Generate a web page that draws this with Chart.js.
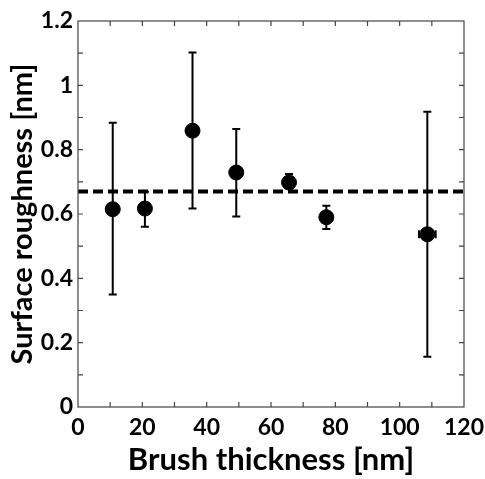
<!DOCTYPE html>
<html>
<head>
<meta charset="utf-8">
<script src="https://cdn.jsdelivr.net/npm/chart.js@4.4.1/dist/chart.umd.min.js"></script>
<style>
  html, body { margin: 0; padding: 0; background: #fff; }
  #wrap { width: 485px; height: 479px; position: relative; }
</style>
</head>
<body>
<div id="wrap"><canvas id="roughChart"></canvas></div>
<script>
// dados
const thickness = [10.8, 20.8, 35.6, 49.2, 65.6, 77.2, 108.6];
const roughness = [0.615, 0.617, 0.859, 0.729, 0.698, 0.590, 0.537];
const errUpper  = [0.884, 0.669, 1.102, 0.864, 0.724, 0.626, 0.918];
const errLower  = [0.350, 0.560, 0.617, 0.592, 0.680, 0.553, 0.156];
const xErr      = [0, 0, 0, 0, 0, 0, 2.6];
const meanLevel = 0.67;
const xTicks = [0, 20, 40, 60, 80, 100, 120];
const yTicks = [0, 0.2, 0.4, 0.6, 0.8, 1, 1.2];

const fontFamily = 'Lato, "Open Sans", sans-serif';

// barras de erro desenhadas por baixo dos pontos
const errorBars = {
    id: 'errorBars',
    beforeDatasetsDraw(chart) {
        const ctx = chart.ctx;
        const xs = chart.scales.x, ys = chart.scales.y;
        ctx.save();
        ctx.strokeStyle = '#000';
        ctx.lineWidth = 2;
        const cap = 4;
        thickness.forEach((t, i) => {
            const px = xs.getPixelForValue(t);
            const top = ys.getPixelForValue(errUpper[i]);
            const bot = ys.getPixelForValue(errLower[i]);
            ctx.beginPath();
            ctx.moveTo(px, top); ctx.lineTo(px, bot);
            ctx.moveTo(px - cap, top); ctx.lineTo(px + cap, top);
            ctx.moveTo(px - cap, bot); ctx.lineTo(px + cap, bot);
            if (xErr[i] > 0) {
                const py = ys.getPixelForValue(roughness[i]);
                const l = xs.getPixelForValue(t - xErr[i]);
                const r = xs.getPixelForValue(t + xErr[i]);
                ctx.moveTo(l, py); ctx.lineTo(r, py);
                ctx.moveTo(l, py - cap); ctx.lineTo(l, py + cap);
                ctx.moveTo(r, py - cap); ctx.lineTo(r, py + cap);
            }
            ctx.stroke();
        });
        ctx.restore();
    }
};

// moldura e marcas para dentro (maiores e menores)
const frameTicks = {
    id: 'frameTicks',
    afterDraw(chart) {
        const ctx = chart.ctx;
        const a = chart.chartArea;
        const xs = chart.scales.x, ys = chart.scales.y;
        const len = 5;
        ctx.save();
        ctx.strokeStyle = '#444';
        ctx.lineWidth = 1.2;
        ctx.strokeRect(a.left, a.top, a.right - a.left, a.bottom - a.top);
        ctx.beginPath();
        for (let v = 10; v < 120; v += 10) {
            const px = xs.getPixelForValue(v);
            ctx.moveTo(px, a.bottom); ctx.lineTo(px, a.bottom - len);
            ctx.moveTo(px, a.top); ctx.lineTo(px, a.top + len);
        }
        for (let k = 1; k < 12; k++) {
            const py = ys.getPixelForValue(k / 10);
            ctx.moveTo(a.left, py); ctx.lineTo(a.left + len, py);
            ctx.moveTo(a.right, py); ctx.lineTo(a.right - len, py);
        }
        ctx.stroke();
        ctx.restore();
    }
};

const ctx = document.getElementById('roughChart').getContext('2d');

new Chart(ctx, {
    type: 'scatter',
    data: {
        datasets: [
            {
                label: 'Surface roughness',
                data: thickness.map((t, i) => ({ x: t, y: roughness[i] })),
                backgroundColor: '#000',
                borderColor: '#000',
                pointRadius: 7.5,
                pointHoverRadius: 7.5,
                order: 1
            },
            {
                label: 'Mean',
                type: 'line',
                data: [{ x: xTicks[0], y: meanLevel }, { x: xTicks[xTicks.length - 1], y: meanLevel }],
                borderColor: '#000',
                borderWidth: 4,
                borderDash: [10, 5],
                pointRadius: 0,
                fill: false,
                order: 2
            }
        ]
    },
    options: {
        responsive: true,
        maintainAspectRatio: false,
        animation: false,
        layout: { padding: { top: 21, right: 21, left: 0, bottom: 0 } },
        plugins: {
            legend: { display: false },
            tooltip: { enabled: false }
        },
        scales: {
            x: {
                type: 'linear',
                min: 0,
                max: 120,
                afterBuildTicks: s => { s.ticks = xTicks.map(v => ({ value: v })); },
                // área do gráfico fixa: sem recuo extra por causa do rótulo "120"
                afterFit: s => { s.height = 479 - 407; s.paddingLeft = 0; s.paddingRight = 0; },
                grid: { display: false, drawTicks: false },
                border: { display: false },
                ticks: {
                    padding: 7,
                    maxRotation: 0,
                    color: '#000',
                    font: { family: fontFamily, size: 23, weight: 'bold' }
                },
                title: {
                    display: true,
                    text: 'Brush thickness [nm]',
                    color: '#000',
                    padding: { top: 3, bottom: 0 },
                    font: { family: fontFamily, size: 31, weight: 'bold' }
                }
            },
            y: {
                type: 'linear',
                min: 0,
                max: 1.2,
                afterBuildTicks: s => { s.ticks = yTicks.map(v => ({ value: v })); },
                afterFit: s => { s.width = 78; s.paddingTop = 0; s.paddingBottom = 0; },
                grid: { display: false, drawTicks: false },
                border: { display: false },
                ticks: {
                    padding: 5,
                    color: '#000',
                    font: { family: fontFamily, size: 23, weight: 'bold' },
                    callback: v => String(v)
                },
                title: {
                    display: true,
                    text: 'Surface roughness [nm]',
                    color: '#000',
                    padding: { top: 5, bottom: 0 },
                    font: { family: fontFamily, size: 29, weight: 'bold' }
                }
            }
        }
    },
    plugins: [errorBars, frameTicks]
});
</script>
</body>
</html>
